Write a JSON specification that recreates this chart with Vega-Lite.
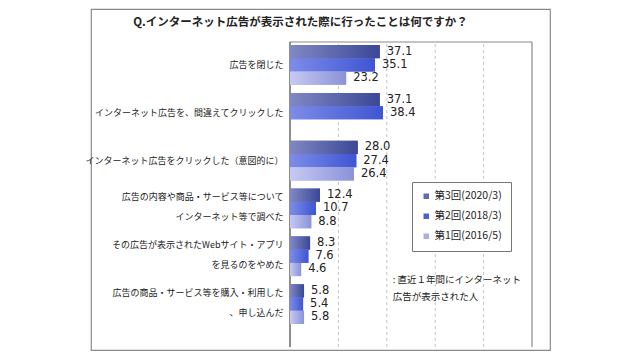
{
  "$schema": "https://vega.github.io/schema/vega-lite/v6.json",
  "width": 459,
  "height": 341,
  "autosize": {"type": "none"},
  "padding": {"left": 91, "top": 9, "right": 90, "bottom": 10},
  "background": "white",
  "config": {
    "view": {"stroke": "#8a8a8a", "strokeWidth": 1.2},
    "font": "Noto Sans CJK JP"
  },
  "title": {
    "text": "Q.インターネット広告が表示された際に行ったことは何ですか？",
    "anchor": "middle",
    "frame": "group",
    "offset": -19,
    "dx": -20,
    "fontSize": 11.5,
    "font": "Noto Sans CJK JP",
    "fontWeight": "bold",
    "color": "#222222"
  },
  "datasets": {
    "bars": [
      {"cat": "広告を閉じた", "series": "第3回(2020/3)", "value": 37.1},
      {"cat": "広告を閉じた", "series": "第2回(2018/3)", "value": 35.1},
      {"cat": "広告を閉じた", "series": "第1回(2016/5)", "value": 23.2},
      {"cat": "インターネット広告を、間違えてクリックした", "series": "第3回(2020/3)", "value": 37.1},
      {"cat": "インターネット広告を、間違えてクリックした", "series": "第2回(2018/3)", "value": 38.4},
      {"cat": "インターネット広告をクリックした（意図的に）", "series": "第3回(2020/3)", "value": 28.0},
      {"cat": "インターネット広告をクリックした（意図的に）", "series": "第2回(2018/3)", "value": 27.4},
      {"cat": "インターネット広告をクリックした（意図的に）", "series": "第1回(2016/5)", "value": 26.4},
      {"cat": "広告の内容や商品・サービス等について|インターネット等で調べた", "series": "第3回(2020/3)", "value": 12.4},
      {"cat": "広告の内容や商品・サービス等について|インターネット等で調べた", "series": "第2回(2018/3)", "value": 10.7},
      {"cat": "広告の内容や商品・サービス等について|インターネット等で調べた", "series": "第1回(2016/5)", "value": 8.8},
      {"cat": "その広告が表示されたWebサイト・アプリ|を見るのをやめた", "series": "第3回(2020/3)", "value": 8.3},
      {"cat": "その広告が表示されたWebサイト・アプリ|を見るのをやめた", "series": "第2回(2018/3)", "value": 7.6},
      {"cat": "その広告が表示されたWebサイト・アプリ|を見るのをやめた", "series": "第1回(2016/5)", "value": 4.6},
      {"cat": "広告の商品・サービス等を購入・利用した|、申し込んだ", "series": "第3回(2020/3)", "value": 5.8},
      {"cat": "広告の商品・サービス等を購入・利用した|、申し込んだ", "series": "第2回(2018/3)", "value": 5.4},
      {"cat": "広告の商品・サービス等を購入・利用した|、申し込んだ", "series": "第1回(2016/5)", "value": 5.8}
    ],
    "grid": [{"v": 20}, {"v": 40}, {"v": 60}, {"v": 80}],
    "one": [{"k": 1}],
    "note": [{"note": ": 直近１年間にインターネット\n　広告が表示された人"}]
  },
  "layer": [
    {
      "layer": [
        {
          "data": {"name": "grid"},
          "mark": {"type": "rule", "color": "#c4c4c4", "strokeDash": [3, 3], "strokeWidth": 1},
          "encoding": {
            "x": {"field": "v", "type": "quantitative", "scale": {"domain": [0, 100], "range": [199, 441], "nice": false, "zero": true}, "axis": null},
            "y": {"datum": 0, "type": "quantitative", "scale": {"domain": [0, 1], "range": [338, 33], "nice": false}, "axis": null},
            "y2": {"datum": 1}
          }
        },
        {
          "data": {"name": "one"},
          "mark": {"type": "rule", "color": "#8a8a8a", "strokeWidth": 1.2},
          "encoding": {
            "x": {"datum": 100, "type": "quantitative"},
            "y": {"datum": 0, "type": "quantitative"},
            "y2": {"datum": 1}
          }
        },
        {
          "data": {"name": "one"},
          "mark": {"type": "rule", "color": "#8a8a8a", "strokeWidth": 1.2},
          "encoding": {
            "x": {"datum": 0, "type": "quantitative"},
            "x2": {"datum": 100},
            "y": {"datum": 1, "type": "quantitative"}
          }
        },
        {
          "data": {"name": "one"},
          "mark": {"type": "rule", "color": "#444444", "strokeWidth": 1.2},
          "encoding": {
            "x": {"datum": 0, "type": "quantitative"},
            "y": {"datum": 0, "type": "quantitative"},
            "y2": {"datum": 1}
          }
        }
      ]
    },
    {
      "layer": [
        {
          "data": {"name": "bars"},
          "mark": {"type": "bar"},
          "encoding": {
            "y": {
              "field": "cat", "type": "nominal", "sort": null,
              "scale": {"range": [32, 319], "paddingInner": 0.17, "paddingOuter": 0.085},
              "axis": {
                "orient": "left", "offset": -199, "domain": false, "ticks": false,
                "labelPadding": 7, "labelFontSize": 9, "labelLineHeight": 20,
                "labelExpr": "split(datum.label, '|')", "labelColor": "#222222",
                "labelOffset": {"condition": {"test": "indexof(datum.label, '|') >= 0", "value": -11}, "value": 0},
                "labelFont": "Noto Sans CJK JP", "title": null, "labelLimit": 400
              }
            },
            "yOffset": {
              "field": "series", "type": "nominal",
              "scale": {"domain": ["第3回(2020/3)", "第2回(2018/3)", "第1回(2016/5)"], "paddingInner": 0, "paddingOuter": 0}
            },
            "x": {"field": "value", "type": "quantitative"},
            "color": {
              "field": "series", "type": "nominal",
              "scale": {"domain": ["第3回(2020/3)", "第2回(2018/3)", "第1回(2016/5)"], "range": ["#5e6cae", "#4a60d6", "#a8b0e0"]},
              "legend": {
                "orient": "none", "legendX": 321, "legendY": 173, "title": null,
                "strokeColor": "#777777", "fillColor": "white", "padding": 9,
                "symbolType": "square", "symbolSize": 30, "symbolStrokeWidth": 0,
                "labelFontSize": 10.5, "labelFont": "Noto Sans CJK JP", "labelColor": "#222222",
                "labelOffset": 3, "rowPadding": 9
              }
            }
          }
        },
        {
          "data": {"name": "bars"},
          "transform": [{"filter": "datum.series === '第3回(2020/3)'"}],
          "mark": {"type": "bar", "fill": {"gradient": "linear", "x1": 0, "y1": 0, "x2": 1, "y2": 0, "stops": [{"offset": 0, "color": "#8088c4"}, {"offset": 1, "color": "#3a4896"}]}},
          "encoding": {
            "y": {"field": "cat", "type": "nominal", "sort": null},
            "yOffset": {"field": "series", "type": "nominal"},
            "x": {"field": "value", "type": "quantitative"}
          }
        },
        {
          "data": {"name": "bars"},
          "transform": [{"filter": "datum.series === '第2回(2018/3)'"}],
          "mark": {"type": "bar", "fill": {"gradient": "linear", "x1": 0, "y1": 0, "x2": 1, "y2": 0, "stops": [{"offset": 0, "color": "#7d8ce8"}, {"offset": 1, "color": "#3f55d2"}]}},
          "encoding": {
            "y": {"field": "cat", "type": "nominal", "sort": null},
            "yOffset": {"field": "series", "type": "nominal"},
            "x": {"field": "value", "type": "quantitative"}
          }
        },
        {
          "data": {"name": "bars"},
          "transform": [{"filter": "datum.series === '第1回(2016/5)'"}],
          "mark": {"type": "bar", "fill": {"gradient": "linear", "x1": 0, "y1": 0, "x2": 1, "y2": 0, "stops": [{"offset": 0, "color": "#c6caf2"}, {"offset": 1, "color": "#8a92d8"}]}},
          "encoding": {
            "y": {"field": "cat", "type": "nominal", "sort": null},
            "yOffset": {"field": "series", "type": "nominal"},
            "x": {"field": "value", "type": "quantitative"}
          }
        },
        {
          "data": {"name": "bars"},
          "mark": {"type": "text", "align": "left", "baseline": "middle", "dx": 7, "fontSize": 11.5, "font": "DejaVu Sans", "color": "#222222"},
          "encoding": {
            "y": {"field": "cat", "type": "nominal", "sort": null},
            "yOffset": {"field": "series", "type": "nominal"},
            "x": {"field": "value", "type": "quantitative"},
            "text": {"field": "value", "type": "quantitative", "format": ".1f"}
          }
        },
        {
          "data": {"name": "note"},
          "mark": {"type": "text", "align": "left", "baseline": "top", "lineBreak": "\n", "lineHeight": 17, "dy": 19, "fontSize": 9.5, "font": "Noto Sans CJK JP", "color": "#222222"},
          "encoding": {
            "x": {"datum": 42.5, "type": "quantitative"},
            "y": {"datum": "その広告が表示されたWebサイト・アプリ|を見るのをやめた", "type": "nominal"},
            "text": {"field": "note", "type": "nominal"}
          }
        }
      ]
    }
  ],
  "resolve": {"scale": {"y": "independent"}}
}
